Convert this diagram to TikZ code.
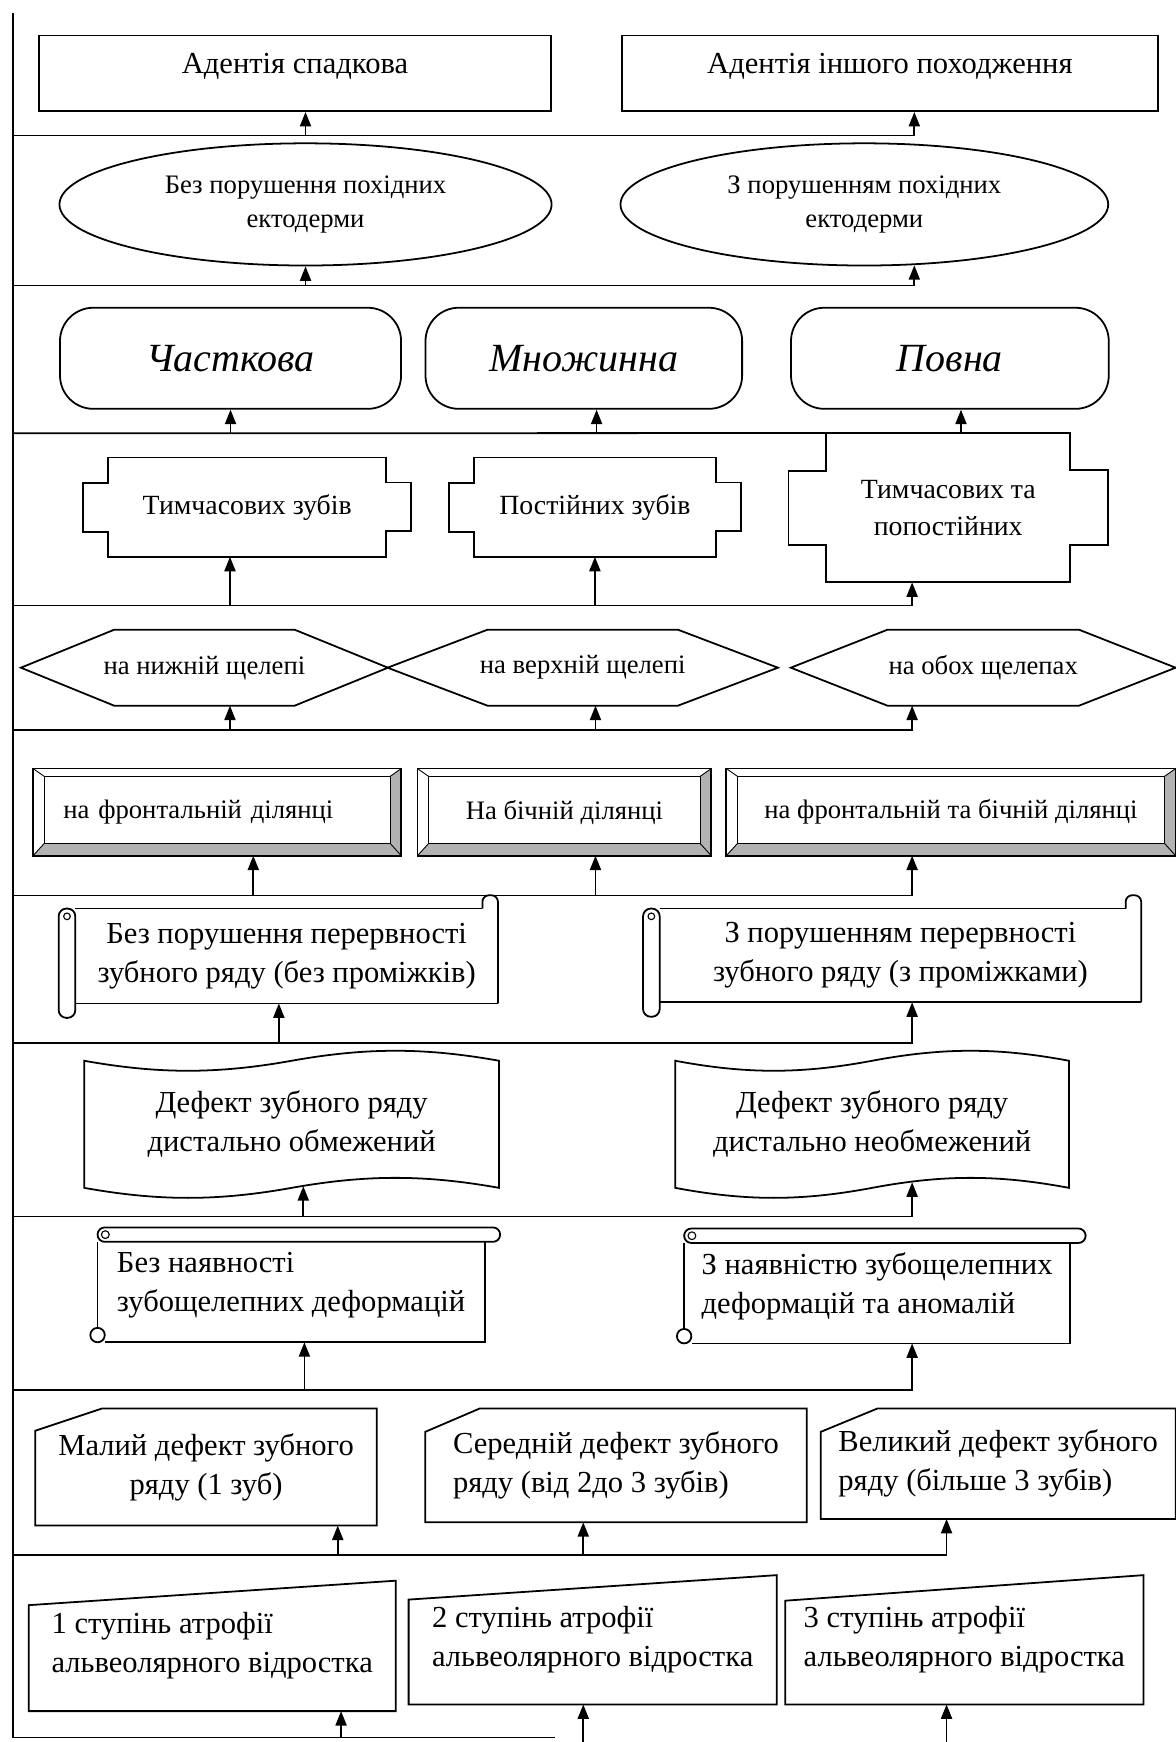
\documentclass[tikz,border=0pt]{standalone}
\usepackage{fontspec}
\setmainfont{Liberation Serif}
\usetikzlibrary{arrows.meta,shapes.geometric}

\begin{document}
\begin{tikzpicture}[x=1pt,y=-1pt,
  every node/.style={inner sep=0pt,align=center},
  lin/.style={line width=1.6pt},
  arr/.style={line width=1.6pt,-{Triangle[length=13pt,width=10pt]}},
  box/.style={draw,line width=1.6pt},
  txtbig/.style={font=\fontsize{27.5}{35}\selectfont},
  txtmid/.style={font=\fontsize{25}{33}\selectfont},
  txtsmall/.style={font=\fontsize{24}{30}\selectfont},
  txtscript/.style={font=\fontsize{36}{40}\selectfont\itshape}]

\useasboundingbox (0,0) rectangle (1058,1568);

%spine and buses
\coordinate (top) at (12,12);
\coordinate (b1) at (12,122);
\coordinate (b2) at (12,257);
\coordinate (b3) at (12,390);
\coordinate (b4) at (12,545);
\coordinate (b5) at (12,657);
\coordinate (b6) at (12,806);
\coordinate (b7) at (12,939);
\coordinate (b8) at (12,1095);
\coordinate (b9) at (12,1251);
\coordinate (b10) at (12,1400);
\coordinate (b11) at (12,1564);
\coordinate (e11) at (500,1564);
\coordinate (fend) at (12,1572);
\draw[lin] (top) -- (b11) -- (e11);

%adentia
\node[box,txtbig,minimum width=461pt,text height=34pt,text depth=34pt] (a1) at (265.5,66) {Адентія спадкова};
\node[box,txtbig,minimum width=482pt,text height=34pt,text depth=34pt] (a2) at (801,66) {Адентія іншого походження};
\coordinate (ta1) at ([xshift=9.5pt]a1.south);
\coordinate (ta2) at ([xshift=22pt]a2.south);
\draw[arr] (b1) -| (ta2);
\draw[arr] (ta1 |- b1) -- (ta1);

%ectoderm
\node[box,ellipse,txtsmall,minimum width=443pt,minimum height=110pt] (e1) at (275,184) {Без порушення похідних\\ектодерми};
\node[box,ellipse,txtsmall,minimum width=439pt,minimum height=110pt] (e2) at (778,184) {З порушенням похідних\\ектодерми};
\coordinate (te2) at ([xshift=45pt,yshift=1pt]e2.south);
\draw[arr] (b2) -| (te2);
\draw[arr] (e1.south |- b2) -- (e1.south);

%extent
\node[box,txtscript,rounded corners=30pt,minimum width=307pt,minimum height=91pt] (s1) at (207.5,322.5) {Часткова};
\node[box,txtscript,rounded corners=30pt,minimum width=285pt,minimum height=91pt] (s2) at (525.5,322.5) {Множинна};
\node[box,txtscript,rounded corners=30pt,minimum width=286pt,minimum height=91pt] (s3) at (855,322.5) {Повна};
\coordinate (ts2) at ([xshift=11.5pt]s2.south);
\coordinate (ts3) at ([xshift=10pt]s3.south);

%teeth
\node[txtmid,minimum width=295pt,minimum height=89pt] (x1) at (222.5,456.5) {Тимчасових зубів};
\node[txtmid,minimum width=263pt,minimum height=89pt] (x2) at (535.5,456.5) {Постійних зубів};
\node[txtmid,minimum width=287pt,minimum height=134pt] (x3) at (853.5,457) {Тимчасових та\\попостійних};
\foreach \nm/\ins/\tabt/\tabh in {x1/22.5/22.5/44,x2/22.5/22.5/44,x3/34/33.5/67}
  \draw[lin] ([xshift=\ins]\nm.north west) -- ([xshift=-\ins]\nm.north east) -- ++(0,\tabt) -- ++(\ins,0) -- ++(0,\tabh) -- ++(-\ins,0)
    -- ([xshift=-\ins]\nm.south east) -- ([xshift=\ins]\nm.south west) -- ++(0,-\tabt) -- ++(-\ins,0) -- ++(0,-\tabh) -- ++(\ins,0) -- cycle;
\draw[lin] (b3) -- ([xshift=34pt]x3.north west);
\foreach \p in {s1.south,ts2,ts3} \draw[arr] (\p |- b3) -- (\p);

\coordinate (tx1) at ([xshift=-15.5pt]x1.south);
\coordinate (tx3) at ([xshift=-32.5pt]x3.south);
\draw[arr] (b4) -| (tx3);
\foreach \p in {tx1,x2.south} \draw[arr] (\p |- b4) -- (\p);

%jaws
\node[txtsmall,minimum width=330pt,minimum height=68pt] (h1) at (184,601) {на нижній щелепі};
\node[txtsmall,minimum width=351pt,minimum height=68pt] (h2) at (524.5,601) {на верхній щелепі};
\node[txtsmall,minimum width=346pt,minimum height=68pt] (h3) at (885,601) {на обох щелепах};
\foreach \nm/\ins in {h1/84,h2/90,h3/87}
  \draw[lin] (\nm.west) -- ([xshift=\ins]\nm.north west) -- ([xshift=-\ins]\nm.north east) -- (\nm.east)
    -- ([xshift=-\ins]\nm.south east) -- ([xshift=\ins]\nm.south west) -- cycle;
\coordinate (th1) at ([xshift=23pt]h1.south);
\coordinate (th2) at ([xshift=11.5pt]h2.south);
\coordinate (th3) at ([xshift=-64pt]h3.south);
\draw[arr] (b5) -| (th3);
\foreach \p in {th1,th2} \draw[arr] (\p |- b5) -- (\p);

%site
\node[txtsmall,minimum width=331pt,minimum height=78pt,text width=277pt,inner xsep=27pt,align=left] (v1) at (195.5,731) {на фронтальній ділянці};
\node[txtsmall,minimum width=264pt,minimum height=78pt] (v2) at (508,731) {На бічній ділянці};
\node[txtsmall,minimum width=404pt,minimum height=78pt] (v3) at (856,731) {на фронтальній та бічній ділянці};
\foreach \nm in {v1,v2,v3} {
  \fill[gray!60] (\nm.south west) -- (\nm.south east) -- (\nm.north east) -- ([shift={(-10,7)}]\nm.north east)
    -- ([shift={(-10,-11)}]\nm.south east) -- ([shift={(10,-11)}]\nm.south west) -- cycle;
  \draw[lin] (\nm.south west) rectangle (\nm.north east);
  \draw[line width=1pt] ([shift={(10,7)}]\nm.north west) rectangle ([shift={(-10,-11)}]\nm.south east);
  \draw[line width=0.8pt] (\nm.north west) -- ([shift={(10,7)}]\nm.north west)
    (\nm.north east) -- ([shift={(-10,7)}]\nm.north east)
    (\nm.south west) -- ([shift={(10,-11)}]\nm.south west)
    (\nm.south east) -- ([shift={(-10,-11)}]\nm.south east);
}
\coordinate (tv1) at ([xshift=32.5pt]v1.south);
\coordinate (tv2) at ([xshift=28pt]v2.south);
\coordinate (tv3) at ([xshift=-35pt]v3.south);
\draw[arr] (b6) -| (tv3);
\foreach \p in {tv1,tv2} \draw[arr] (\p |- b6) -- (\p);

%continuity
\node[txtbig,minimum width=380pt,minimum height=85pt] (g1) at (258,860.5) {Без порушення перервності\\зубного ряду (без проміжків)};
\node[txtbig,minimum width=433pt,minimum height=84pt] (g2) at (810.5,860) {З порушенням перервності\\зубного ряду (з проміжками)};
\foreach \nm in {g1,g2} {
  \draw[lin] (\nm.north west) -- ([xshift=-14]\nm.north east);
  \draw[lin,rounded corners=6pt] ([xshift=-14]\nm.north east) -- ++(0,-12) -- ++(14,0) -- (\nm.south east);
  \draw[lin] (\nm.south east) -- (\nm.south west);
  \draw[lin,rounded corners=7pt,fill=white] ([xshift=-15]\nm.north west) rectangle ([yshift=-13]\nm.south west);
  \draw[line width=1pt] ([shift={(-7.5,7)}]\nm.north west) circle (3pt);
}
\coordinate (tg1) at ([xshift=-7pt]g1.south);
\coordinate (tg2) at ([xshift=10.5pt]g2.south);
\draw[arr] (b7) -| (tg2);
\draw[arr] (tg1 |- b7) -- (tg1);

%distal
\node[txtbig,minimum width=373pt,minimum height=114pt] (p1) at (262.5,1012) {Дефект зубного ряду\\дистально обмежений};
\node[txtbig,minimum width=354pt,minimum height=114pt] (p2) at (785,1012) {Дефект зубного ряду\\дистально необмежений};
\foreach \nm/\cc in {p1/67,p2/64}
  \draw[lin] (\nm.north west) .. controls +(\cc,12) and +(-\cc,12) .. (\nm.north) .. controls +(\cc,-12) and +(-\cc,-12) .. (\nm.north east)
    -- (\nm.south east) .. controls +(-\cc,-12) and +(\cc,-12) .. (\nm.south) .. controls +(-\cc,12) and +(\cc,12) .. (\nm.south west) -- cycle;
\coordinate (tp1) at ([shift={(10.5,-1.5)}]p1.south);
\coordinate (tp2) at ([shift={(36,-5)}]p2.south);
\draw[arr] (b8) -| (tp2);
\draw[arr] (tp1 |- b8) -- (tp1);

%deformations
\node[txtbig,minimum width=348pt,minimum height=103pt,align=left] (q1) at (262,1156.5) {Без наявності\\зубощелепних деформацій};
\node[txtbig,minimum width=347pt,minimum height=103pt,align=left] (q2) at (789.5,1157.5) {З наявністю зубощелепних\\деформацій та аномалій};
\foreach \nm in {q1,q2} {
  \draw[lin] ([yshift=-13]\nm.north west) -- ([yshift=13]\nm.south west);
  \draw[lin] ([yshift=-13]\nm.north east) -- (\nm.south east) -- ([xshift=7]\nm.south west);
  \draw[lin,rounded corners=6.5pt] (\nm.north west) rectangle ([shift={(14,13)}]\nm.north east);
  \draw[lin] ([yshift=6.5]\nm.south west) circle (6.5pt);
  \draw[line width=1pt] ([shift={(7,6.5)}]\nm.north west) circle (3.5pt);
}
\coordinate (tq1) at ([xshift=12pt]q1.south);
\coordinate (tq2) at ([xshift=31.5pt]q2.south);
\draw[arr] (b9) -| (tq2);
\draw[arr] (tq1 |- b9) -- (tq1);

%size
\node[txtbig,minimum width=307pt,minimum height=105pt] (c1) at (185.5,1320.5) {Малий дефект зубного\\ряду (1 зуб)};
\node[txtbig,minimum width=343pt,minimum height=102pt,align=left] (c2) at (554.5,1319) {Середній дефект зубного\\ряду (від 2до 3 зубів)};
\node[txtbig,minimum width=319pt,minimum height=99pt,align=left] (c3) at (898.5,1317.5) {Великий дефект зубного\\ряду (більше 3 зубів)};
\foreach \nm/\dx/\dy in {c1/60/20,c2/49/21,c3/51/21}
  \draw[lin] ([yshift=-\dy]\nm.north west) -- ([xshift=\dx]\nm.north west) -- (\nm.north east) -- (\nm.south east) -- (\nm.south west) -- cycle;
\coordinate (tc1) at ([xshift=118.5pt]c1.south);
\coordinate (tc2) at ([xshift=-29.5pt]c2.south);
\coordinate (tc3) at ([xshift=-46.5pt]c3.south);
\draw[arr] (b10) -| (tc3);
\foreach \p in {tc1,tc2} \draw[arr] (\p |- b10) -- (\p);

%atrophy
\node[txtbig,minimum width=330pt,minimum height=117pt,align=left] (m1) at (191,1481.5) {1 ступінь атрофії\\альвеолярного відростка};
\node[txtbig,minimum width=331pt,minimum height=116pt,align=left] (m2) at (533.5,1476) {2 ступінь атрофії\\альвеолярного відростка};
\node[txtbig,minimum width=322pt,minimum height=116pt,align=left] (m3) at (868,1476) {3 ступінь атрофії\\альвеолярного відростка};
\foreach \nm/\dy in {m1/22,m2/22,m3/23}
  \draw[lin] ([yshift=-\dy]\nm.north west) -- (\nm.north east) -- (\nm.south east) -- (\nm.south west) -- cycle;
\coordinate (tm1) at ([xshift=116pt]m1.south);
\coordinate (tm2) at ([xshift=-8.5pt]m2.south);
\coordinate (tm3) at ([xshift=-16pt]m3.south);
\draw[arr] (tm1 |- b11) -- (tm1);
\draw[arr] (tm2 |- fend) -- (tm2);
\draw[arr] (tm3 |- fend) -- (tm3);

\end{tikzpicture}
\end{document}
